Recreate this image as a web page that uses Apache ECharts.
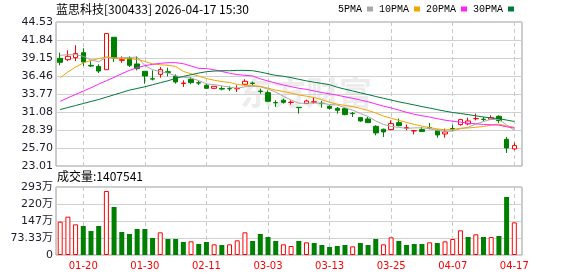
<!DOCTYPE html>
<html>
<head>
<meta charset="utf-8">
<script src="https://cdn.jsdelivr.net/npm/echarts@6/dist/echarts.min.js"></script>
<style>
  html, body { margin: 0; padding: 0; background: #fff; }
  #chart { width: 578px; height: 276px; }
</style>
</head>
<body>
<div id="chart"></div>
<script>
// 蓝思科技 日K，2026-01-15 ~ 2026-04-17
const stockTitle = '蓝思科技[300433] 2026-04-17 15:30';

const dates = [
  '01-15', '01-16', '01-19', '01-20', '01-21', '01-22', '01-23', '01-26', '01-27', '01-28',
  '01-29', '01-30', '02-02', '02-03', '02-04', '02-05', '02-06', '02-09', '02-10', '02-11',
  '02-12', '02-13', '02-24', '02-25', '02-26', '02-27', '03-02', '03-03', '03-04', '03-05',
  '03-06', '03-09', '03-10', '03-11', '03-12', '03-13', '03-16', '03-17', '03-18', '03-19',
  '03-20', '03-23', '03-24', '03-25', '03-26', '03-27', '03-30', '03-31', '04-01', '04-02',
  '04-03', '04-07', '04-08', '04-09', '04-10', '04-13', '04-14', '04-15', '04-16', '04-17'
];

// [open, close, low, high]
const candles = [
  [39.10, 38.50, 38.06, 39.95], [38.90, 39.40, 38.70, 40.30], [39.20, 39.80, 38.70, 41.05],
  [39.95, 38.56, 37.96, 40.60], [38.05, 37.95, 37.80, 38.66], [37.90, 37.20, 36.90, 38.20],
  [37.40, 42.80, 37.40, 42.80], [42.25, 39.15, 38.56, 42.25], [38.80, 38.90, 38.45, 39.40],
  [39.15, 38.06, 37.80, 39.40], [38.26, 37.56, 37.30, 39.40], [37.16, 36.46, 35.30, 37.16],
  [36.05, 36.00, 35.80, 37.30], [36.71, 37.41, 36.20, 37.80], [37.10, 37.00, 36.40, 37.70],
  [36.41, 35.57, 35.32, 36.71], [35.35, 35.40, 34.82, 35.82], [35.97, 35.47, 35.22, 36.30],
  [35.45, 35.40, 35.12, 35.72], [35.07, 34.62, 34.52, 35.32], [34.62, 34.92, 34.50, 34.92],
  [34.60, 34.50, 34.32, 34.92], [34.57, 34.55, 34.22, 34.92], [34.55, 34.60, 34.07, 35.07],
  [35.22, 35.67, 35.07, 35.97], [35.40, 35.35, 35.02, 35.62], [34.20, 34.15, 33.82, 34.57],
  [33.97, 32.68, 32.58, 34.32], [32.50, 32.45, 31.83, 32.83], [32.83, 32.53, 32.33, 33.08],
  [32.50, 32.55, 32.18, 32.83], [31.78, 31.73, 30.84, 31.78], [32.33, 32.73, 32.33, 32.93],
  [32.55, 32.60, 32.33, 33.28], [32.38, 32.33, 31.73, 32.73], [31.93, 31.63, 31.43, 32.08],
  [31.63, 31.33, 30.84, 31.83], [31.58, 30.69, 30.59, 31.73], [30.88, 30.84, 30.34, 31.08],
  [30.24, 29.74, 29.60, 30.34], [30.04, 29.49, 29.44, 30.34], [28.94, 27.95, 27.60, 29.10],
  [28.50, 28.10, 27.35, 28.60], [28.45, 29.34, 28.35, 29.84], [29.49, 29.04, 28.94, 30.09],
  [28.65, 28.75, 28.35, 29.20], [28.25, 28.30, 27.75, 28.30], [28.45, 28.15, 28.10, 28.85],
  [28.75, 28.70, 28.50, 29.44], [28.35, 27.65, 27.25, 28.45], [27.80, 28.10, 27.25, 28.60],
  [28.60, 28.55, 28.20, 29.20], [29.20, 29.94, 29.04, 30.04], [29.30, 29.74, 29.10, 30.24],
  [30.08, 30.10, 29.84, 30.84], [30.00, 29.95, 29.70, 30.34], [30.00, 30.24, 29.94, 30.59],
  [30.44, 29.79, 29.44, 30.59], [27.00, 25.70, 24.96, 27.35], [25.56, 26.06, 25.36, 26.50]
];
const prevClose = 38.2; // 01-14 收盘

const volumes = [
  1438000, 1654000, 1323000, 1251000, 1035000, 1251000, 2761000, 2071000, 992000, 906000,
  1122000, 1122000, 733000, 978000, 690000, 690000, 561000, 590000, 475000, 561000,
  460000, 431000, 460000, 633000, 978000, 604000, 906000, 777000, 604000, 460000,
  388000, 604000, 546000, 518000, 431000, 345000, 388000, 431000, 374000, 518000,
  431000, 690000, 460000, 762000, 604000, 431000, 475000, 475000, 546000, 518000,
  590000, 690000, 1064000, 777000, 892000, 777000, 777000, 820000, 2502000, 1407541
];

// 均线起始段（窗口之前的数据不可见，读自图中）
const ma5Head = [39.55, 39.65, 39.65, 39.40];
const ma10Head = [36.21, 37.06, 37.81, 38.40, 38.80, 39.05, 39.30, 39.15, 39.05];
const ma20Head = [32.68, 33.20, 33.70, 34.20, 34.70, 35.25, 35.75, 36.25, 36.80, 37.30,
  37.70, 38.00, 38.20, 38.35, 38.45, 38.45, 38.30, 37.95, 37.60];
const ma30Head = [31.45, 31.75, 32.05, 32.35, 32.65, 32.95, 33.30, 33.65, 34.00, 34.35,
  34.60, 34.85, 35.15, 35.45, 35.75, 36.10, 36.40, 36.65, 36.90, 37.10,
  37.20, 37.25, 37.25, 37.30, 37.30, 37.25, 37.05, 36.80, 36.55];

const priceTicks = [23.01, 25.70, 28.39, 31.08, 33.77, 36.46, 39.15, 41.84, 44.53];
const volumeMax = 2933333;

const maNames = ['5PMA', '10PMA', '20PMA', '30PMA'];
const maColors = ['#a8a8a8', '#f5a300', '#ff22ff', '#007a3d'];

const upColor = '#ff0000';
const downColor = '#008000';

function movingAverage(n, head) {
  return candles.map(function (c, i) {
    if (i < n - 1) return head[i];
    let sum = 0;
    for (let k = i - n + 1; k <= i; k++) sum += candles[k][1];
    return +(sum / n).toFixed(3);
  });
}

const maData = [
  movingAverage(5, ma5Head),
  movingAverage(10, ma10Head),
  movingAverage(20, ma20Head),
  movingAverage(30, ma30Head)
];

// 量柱颜色按涨跌（与前收盘比较）
const volumeData = volumes.map(function (v, i) {
  const last = i === 0 ? prevClose : candles[i - 1][1];
  const up = candles[i][1] >= last;
  return {
    value: v,
    itemStyle: up
      ? { color: '#fff', borderColor: upColor, borderWidth: 1 }
      : { color: downColor, borderColor: downColor, borderWidth: 0 }
  };
});

const labelEvery = function (idx) { return (idx - 3) % 8 === 0; };
const axisFont = '"DejaVu Sans", "Noto Sans CJK SC", sans-serif';
const cjkFont = '"Noto Sans CJK SC", sans-serif';
const plotLeft = 60.2, plotWidth = 454.1;

const chart = echarts.init(document.getElementById('chart'), null, { renderer: 'canvas' });

const option = {
  animation: false,
  backgroundColor: '#fff',
  title: [
    {
      text: stockTitle, left: 56, top: 3, padding: 0,
      textStyle: { fontSize: 12, fontWeight: 'normal', color: '#000', fontFamily: cjkFont }
    },
    {
      text: '成交量:' + volumes[volumes.length - 1], left: 57, top: 170, padding: 0,
      textStyle: { fontSize: 12, fontWeight: 'normal', color: '#000', fontFamily: cjkFont }
    }
  ],
  legend: {
    data: maNames,
    left: 338, top: 4, padding: 0,
    align: 'right',
    icon: 'rect',
    itemWidth: 6, itemHeight: 5, itemGap: 6,
    selectedMode: false,
    textStyle: { fontSize: 10, color: '#000', fontFamily: '"Liberation Mono", monospace' }
  },
  graphic: [{
    type: 'text', left: 240, top: 76, z: -1, silent: true,
    style: { text: '东方财富', fontSize: 33, fontWeight: 'bold', fill: '#ececec', fontFamily: cjkFont }
  }],
  grid: [
    { left: 56, top: 22, width: 466, height: 144, show: true, borderColor: '#9a9a9a', borderWidth: 1 },
    { left: plotLeft, top: 22, width: plotWidth, height: 144 },
    { left: 56, top: 187, width: 466, height: 68, show: true, borderColor: '#9a9a9a', borderWidth: 1 },
    { left: plotLeft, top: 187, width: plotWidth, height: 68 }
  ],
  xAxis: [
    { gridIndex: 0, type: 'value', min: 0, max: 1, show: false },
    {
      gridIndex: 1, type: 'category', data: dates, boundaryGap: false,
      axisLine: { show: false }, axisTick: { show: false }, axisLabel: { show: false },
      splitLine: { show: true, interval: labelEvery, lineStyle: { color: '#c8c8c8', type: [4, 3] } }
    },
    { gridIndex: 2, type: 'value', min: 0, max: 1, show: false },
    {
      gridIndex: 3, type: 'category', data: dates, boundaryGap: false,
      axisLine: { show: false }, axisTick: { show: false },
      axisLabel: {
        interval: labelEvery, color: '#ff0000', fontSize: 10, margin: 6,
        fontFamily: axisFont
      },
      splitLine: { show: true, interval: labelEvery, lineStyle: { color: '#c8c8c8', type: [4, 3] } }
    }
  ],
  yAxis: [
    {
      gridIndex: 0, type: 'value', min: priceTicks[0], max: priceTicks[priceTicks.length - 1],
      axisLine: { show: false },
      axisTick: { show: false, customValues: priceTicks },
      axisLabel: {
        customValues: priceTicks, margin: 3, fontSize: 11, color: '#1a1a2a', fontFamily: axisFont,
        formatter: function (v) { return v.toFixed(2); }
      },
      splitLine: { show: true, lineStyle: { color: '#d0d0d0' } }
    },
    {
      gridIndex: 1, type: 'value', min: priceTicks[0], max: priceTicks[priceTicks.length - 1],
      show: false, splitLine: { show: false }
    },
    {
      gridIndex: 2, type: 'value', min: 0, max: volumeMax, interval: volumeMax / 4,
      axisLine: { show: false }, axisTick: { show: false },
      axisLabel: {
        margin: 3, fontSize: 11, color: '#1a1a2a', fontFamily: axisFont,
        formatter: function (v) {
          if (v === 0) return '0';
          return v >= 1000000 ? Math.round(v / 10000) + '万' : (v / 10000).toFixed(2) + '万';
        }
      },
      splitLine: { show: true, lineStyle: { color: '#d0d0d0' } }
    },
    {
      gridIndex: 3, type: 'value', min: 0, max: volumeMax,
      show: false, splitLine: { show: false }
    }
  ],
  series: [
    {
      type: 'candlestick', name: 'K', xAxisIndex: 1, yAxisIndex: 1,
      data: candles, barWidth: 5, clip: false,
      itemStyle: {
        color: '#fff', color0: downColor,
        borderColor: upColor, borderColor0: downColor, borderWidth: 1
      }
    }
  ].concat(maNames.map(function (name, k) {
    return {
      type: 'line', name: name, xAxisIndex: 1, yAxisIndex: 1,
      data: maData[k], symbol: 'none', silent: true,
      color: maColors[k],
      lineStyle: { width: 1, color: maColors[k] }
    };
  })).concat([
    {
      type: 'bar', name: '成交量', xAxisIndex: 3, yAxisIndex: 3,
      data: volumeData, barWidth: 5, clip: false
    }
  ])
};

chart.setOption(option);
</script>
</body>
</html>
